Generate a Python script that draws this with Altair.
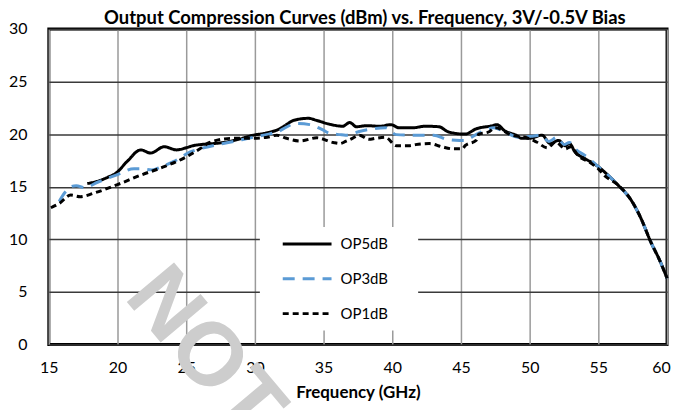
import altair as alt
import pandas as pd

# ---- data ----
freq_op5 = [17.8, 18.5, 19.3, 19.9, 20.7, 21.7, 22.4, 23.4, 24.3, 25.0, 25.5, 26.0, 27.0, 27.7,
            28.8, 29.9, 30.8, 31.8, 32.3, 32.8, 33.9, 34.5, 35.4, 36.4, 36.9, 37.4, 38.1, 39.1,
            39.9, 40.5, 41.5, 42.4, 43.4, 44.1, 45.3, 46.1, 47.3, 47.6, 48.2, 49.0, 49.4, 50.0,
            50.9, 51.5, 52.1, 52.6, 52.9, 53.3, 54.0, 55.0, 55.7, 56.4, 57.4, 58.1, 58.8, 59.5, 60.0]
op5 = [15.3, 15.5, 15.9, 16.3, 17.4, 18.5, 18.2, 18.8, 18.5, 18.7, 18.9, 19.0, 19.1, 19.2,
       19.5, 19.9, 20.1, 20.5, 20.9, 21.3, 21.5, 21.3, 20.95, 20.75, 21.1, 20.7, 20.8, 20.75,
       20.9, 20.6, 20.6, 20.75, 20.7, 20.2, 20.0, 20.5, 20.8, 20.9, 20.3, 19.9, 19.6, 19.6,
       19.9, 19.1, 19.4, 18.9, 19.1, 18.3, 17.7, 16.9, 16.1, 15.2, 13.7, 12.0, 9.8, 7.9, 6.3]

freq_op3 = [15.75, 16.2, 16.6, 17.0, 17.6, 18.5, 19.9, 21.2, 21.7, 22.5, 23.2, 24.1, 25.3, 26.0,
            27.7, 28.8, 29.9, 31.0, 31.6, 33.0, 34.0, 34.95, 35.4, 36.2, 36.6, 37.6, 38.6, 39.5,
            40.3, 41.7, 43.0, 44.0, 44.9, 45.2, 46.3, 47.4, 48.2, 49.2, 50.2, 50.8, 51.4, 52.0,
            52.5, 52.9, 53.4, 54.0, 55.0, 55.7, 56.4, 57.4, 58.1, 58.8, 59.5, 60.0]
op3 = [13.6, 14.5, 15.0, 15.1, 14.9, 15.4, 16.1, 16.7, 16.7, 16.6, 16.9, 17.4, 18.3, 18.6,
       19.1, 19.4, 19.7, 20.0, 20.2, 21.0, 20.9, 20.4, 20.1, 19.95, 19.9, 20.25, 20.5, 20.6,
       19.95, 19.9, 19.9, 19.5, 19.4, 19.4, 20.1, 20.6, 20.2, 19.7, 19.8, 19.9, 19.3, 19.7,
       19.0, 19.2, 18.5, 18.0, 16.9, 16.1, 15.2, 13.7, 12.0, 9.8, 7.9, 6.3]

freq_op1 = [15.15, 15.75, 16.6, 17.3, 18.3, 20.0, 21.7, 23.4, 24.8, 26.0, 26.7, 28.4, 29.6, 30.9,
            31.6, 32.3, 33.3, 34.5, 35.7, 36.2, 36.6, 37.1, 37.6, 38.3, 38.8, 39.5, 40.3, 41.2,
            41.7, 42.7, 43.6, 44.4, 45.1, 45.3, 46.1, 46.3, 47.0, 47.5, 48.7, 49.9, 50.5, 51.3,
            51.9, 52.6, 53.0, 53.5, 54.5, 55.0, 55.5, 56.4, 57.4, 58.1, 58.8, 59.5, 60.0]
op1 = [13.0, 13.4, 14.2, 14.05, 14.4, 15.2, 16.1, 16.9, 17.7, 18.6, 19.2, 19.6, 19.6, 19.7,
       19.9, 19.6, 19.35, 19.65, 19.2, 19.1, 19.3, 19.6, 19.9, 19.5, 19.6, 19.7, 18.9, 18.9,
       19.0, 19.1, 18.8, 18.6, 18.6, 18.9, 19.4, 20.0, 20.2, 20.6, 19.9, 19.6, 19.25, 18.7,
       19.25, 18.6, 18.8, 18.0, 17.2, 16.7, 16.0, 15.2, 13.7, 12.0, 9.8, 7.9, 6.3]

series_names = ["OP5dB", "OP3dB", "OP1dB"]
series_colors = ["#000000", "#5B9BD5", "#000000"]
series_dashes = [[1, 0], [12, 8], [6, 4]]

watermark_text = ["NOT"]
watermark_freq = [21.9]
watermark_val = [6.1]

rows = []
for name, fs, vs in zip(series_names, [freq_op5, freq_op3, freq_op1], [op5, op3, op1]):
    for f, v in zip(fs, vs):
        rows.append({"series": name, "freq": f, "val": v})
df = pd.DataFrame(rows)
wm = pd.DataFrame({"t": watermark_text, "freq": watermark_freq, "val": watermark_val})

FONT = "Lato"

x_enc = alt.X("freq:Q", scale=alt.Scale(domain=[15, 60], nice=False),
              axis=alt.Axis(values=list(range(15, 61, 5)), title="Frequency (GHz)", labelFlush=False,
                            labelOffset={"condition": {"test": "datum.value == 60", "value": -6},
                                         "value": 0}))
y_enc = alt.Y("val:Q", scale=alt.Scale(domain=[0, 30], nice=False),
              axis=alt.Axis(values=list(range(0, 31, 5)), title=None, labelFlush=False))
color_enc = alt.Color("series:N", scale=alt.Scale(domain=series_names, range=series_colors), title=None)
dash_enc = alt.StrokeDash("series:N", scale=alt.Scale(domain=series_names, range=series_dashes), title=None)

watermark = alt.Chart(wm).mark_text(
    angle=50, fontSize=90, font="Liberation Sans", fontWeight="bold",
    color="#cdcdcd", align="left", baseline="middle"
).encode(
    x=alt.X("freq:Q", scale=alt.Scale(domain=[15, 60], nice=False)),
    y=alt.Y("val:Q", scale=alt.Scale(domain=[0, 30], nice=False)),
    text="t:N",
)

layers = [watermark]
for name in series_names:
    layers.append(
        alt.Chart(df).transform_filter(alt.datum.series == name)
        .mark_line(strokeWidth=3, interpolate="monotone")
        .encode(x=x_enc, y=y_enc, color=color_enc, strokeDash=dash_enc)
    )

chart = alt.layer(*layers).properties(
    width=621, height=317,
    padding={"left": 0, "top": 0, "right": 0, "bottom": 0},
    title=alt.TitleParams(
        "Output Compression Curves (dBm) vs. Frequency, 3V/-0.5V Bias",
        font=FONT, fontSize=18.5, fontWeight="bold", color="#000000", offset=-7,
        anchor="middle", dx=7
    ),
).configure_view(
    stroke="#000000", strokeWidth=3
).configure_axis(
    labelFont=FONT, labelFontSize=16, labelColor="#000000",
    titleFont=FONT, titleFontSize=17, titleFontWeight="bold", titleColor="#000000",
    domain=False, ticks=False, grid=True, gridWidth=1.5,
).configure_axisX(
    gridColor="#9a9a9a", labelPadding=15, titlePadding=9,
).configure_axisY(
    gridColor="#3a3a3a", labelPadding=22,
).configure_legend(
    orient="none", legendX=216, legendY=203, fillColor="#ffffff",
    strokeColor="#ffffff", strokeWidth=8, padding=5,
    symbolType="M-1.23,0M0.92,0H8.46M19.4,0", symbolSize=169, symbolStrokeWidth=3,
    labelFont=FONT, labelFontSize=15, labelColor="#000000", labelOffset=56, rowPadding=19,
)

chart.save("out.html", embed_options={"renderer": "svg", "actions": False})
